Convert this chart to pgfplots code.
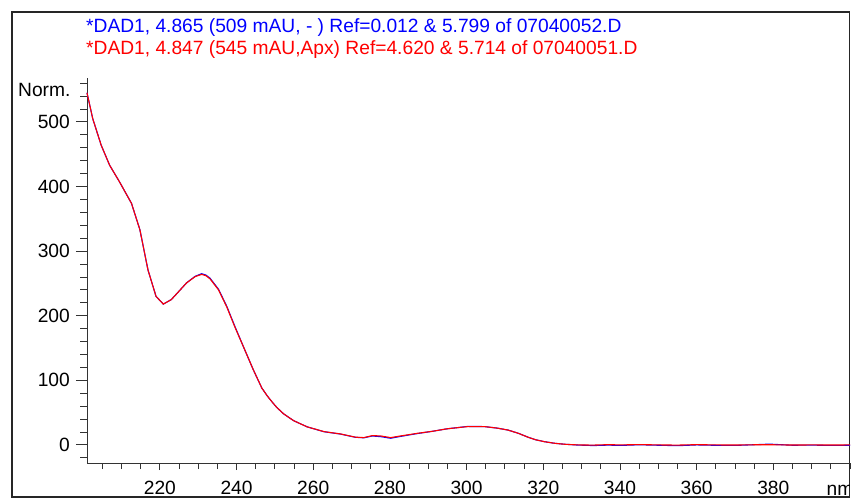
\documentclass[border=0pt]{standalone}
\usepackage{pgfplots}
\pgfplotsset{compat=1.18}
\usepackage{fontspec}
\setmainfont{Liberation Sans}
\newcommand{\lfont}{\fontsize{19.2}{22}\selectfont}
\begin{document}
\begin{tikzpicture}[x=1pt,y=1pt]
\path (0,0) rectangle (856,498);
\draw[line width=1.2pt, black!85] (12,1) rectangle (849.5,486);
\node[anchor=base west, inner sep=0pt, text=blue] at (86,465.3) {\lfont *DAD1, 4.865 (509 mAU, - ) Ref=0.012 \& 5.799 of 07040052.D};
\node[anchor=base west, inner sep=0pt, text=red] at (86,443.5) {\lfont *DAD1, 4.847 (545 mAU,Apx) Ref=4.620 \& 5.714 of 07040051.D};
\node[anchor=base west, inner sep=0pt] at (18,401) {\lfont Norm.};
\begin{scope}
\clip (0,0) rectangle (849,498);
\node[anchor=base west, inner sep=0pt] at (826.5,3) {\lfont nm};
\end{scope}
% y axis and curves
\begin{axis}[at={(87pt,35pt)}, anchor=south west, scale only axis,
  width=763pt, height=385pt,
  xmin=201, xmax=400, ymin=-28, ymax=568,
  axis x line=none, axis y line*=left,
  y axis line style={-, line width=0.9pt, black!80},
  ytick={0,100,200,300,400,500},
  minor ytick={-20,0,...,560},
  tick align=outside,
  major tick length=11pt, minor tick length=7pt,
  every tick/.style={line width=0.9pt, black!80},
  tick label style={font=\lfont},
  /pgf/number format/assume math mode=true,
  yticklabel style={inner sep=0pt, anchor=east, xshift=-6pt},
  clip=false]
\addplot[blue, line width=1.1pt] coordinates {
(201,545) (202.5,505) (204.7,464) (206.9,433) (209.5,407) (212.6,374) (214.8,333)
(216.9,271) (219,230) (220.9,218) (223,225) (225,238) (227,251) (229.2,261) (230.9,265)
(232,263) (233.1,258) (235.3,241) (237.5,214) (239.6,183) (241.8,152) (244.4,116)
(246.6,88) (248,76) (249.2,67) (250.5,58) (252.3,48) (254.9,37.5) (258.4,28) (262.8,20.4) (267.1,16.8)
(271,11.8) (273.2,11.0) (275.4,13.8) (277.6,12.8) (280.2,10.3) (282.8,13.2) (287.2,17.6)
(291,21) (295,25) (300.3,28.6) (304.6,28.4) (308,26) (310.8,23) (313.5,18) (316,12)
(318,8) (320.3,5) (323,2.5) (325.6,1) (329,-0.2) (333,-1.0) (337,-0.3) (340,-0.8)
(345,0.2) (350,-0.5) (355,-1.2) (360,0) (365,-0.6) (370,-0.8) (375,0.3) (379,1.2)
(385,-0.5) (390,-0.3) (395,-0.8) (400,-0.5)};
\addplot[red, line width=1.1pt] coordinates {
(201,545) (202.5,505) (204.7,464) (206.9,433) (209.5,407) (212.6,374) (214.8,333)
(216.9,271) (219,230) (220.9,218) (223,225) (225,238) (227,251) (229.2,260.5) (230.9,264)
(232,262) (233.1,257) (235.3,240) (237.5,213) (239.6,182) (241.8,152) (244.4,116)
(246.6,88) (248,76) (249.2,67) (250.5,58) (252.3,48) (254.9,37.5) (258.4,28) (262.8,20.6) (267.1,17)
(271,12) (273.2,11.3) (275.4,14.4) (277.6,13.9) (280.2,11.3) (282.8,13.9) (287.2,18)
(291,21) (295,25) (300.3,28.4) (304.6,28.4) (308,26) (310.8,23) (313.5,18) (316,12)
(318,8) (320.3,5) (323,2.5) (325.6,1) (329,0) (333,-0.3) (337,0.4) (340,0)
(345,0.5) (350,0) (355,-0.3) (360,0.4) (365,0) (370,-0.2) (375,0.2) (380,0.2)
(385,-0.2) (390,0) (395,-0.2) (400,0)};
\end{axis}
% x axis
\begin{axis}[at={(87pt,35pt)}, anchor=south west, scale only axis,
  width=763pt, height=385pt,
  xmin=201, xmax=400, ymin=-28, ymax=568,
  axis y line=none, axis x line*=bottom,
  x axis line style={-, line width=0.9pt, black!80},
  xtick={220,240,...,380},
  minor xtick={205,210,...,400},
  tick align=outside,
  major tick length=7pt, minor tick length=6pt,
  every tick/.style={line width=0.9pt, black!80},
  tick label style={font=\lfont},
  /pgf/number format/assume math mode=true,
  xticklabel style={inner sep=0pt, anchor=base, yshift=-24pt},
  clip=false]
\end{axis}
\end{tikzpicture}
\end{document}
